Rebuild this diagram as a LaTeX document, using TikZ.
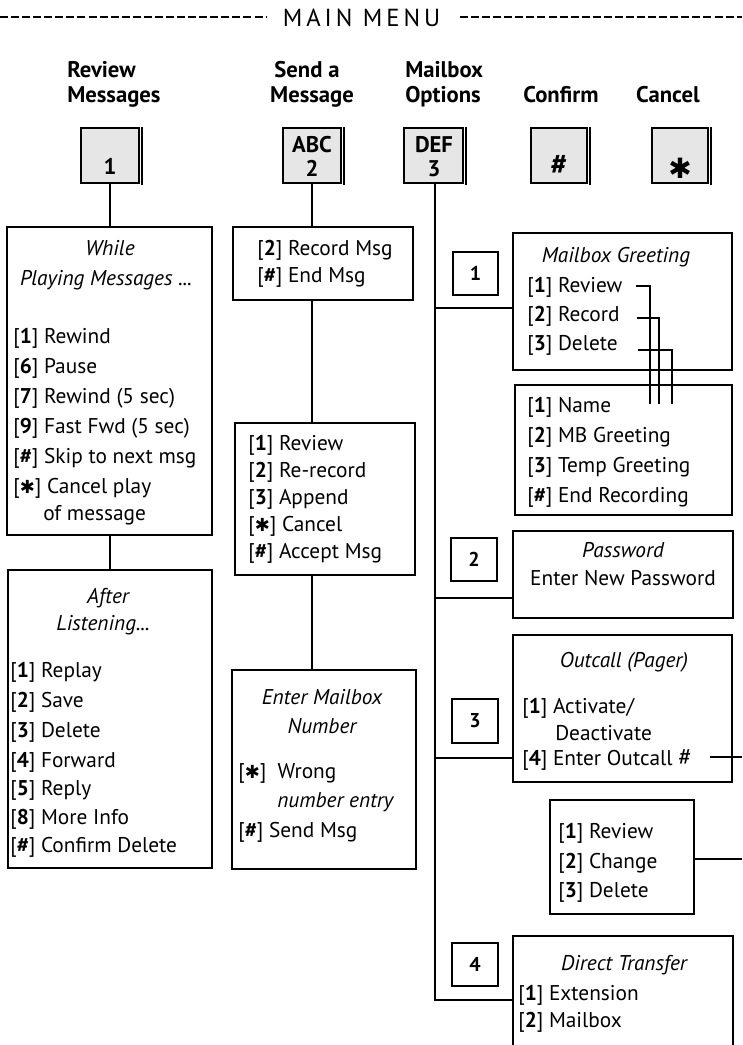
\documentclass[tikz,border=0pt]{standalone}
\usepackage{fontspec}
\setmainfont{PT Sans}
\newfontfamily\djv{DejaVu Sans}
\newfontfamily\hdrfont[LetterSpace=16]{PT Sans}
\usetikzlibrary{fit,calc}
\definecolor{keygray}{RGB}{230,230,230}
\newcommand{\hast}{{\djv\fontsize{13.5}{11}\selectfont ✱}}
\newcommand{\ki}[1]{[\textbf{#1}]}
\newcommand{\bodyf}{\fontsize{16}{19}\selectfont}
\tikzset{
  box/.style={draw, line width=1.5pt, rectangle, inner sep=0pt},
  keyb/.style={draw, line width=1.5pt, rectangle, inner sep=0pt, fill=keygray},
  keyedge/.style={line width=1.5pt},
  lbl/.style={font=\fontsize{17}{20}\selectfont\bfseries, inner sep=0pt},
  keyt/.style={font=\fontsize{17}{20}\selectfont\bfseries, inner sep=0pt, anchor=base},
  numt/.style={font=\fontsize{15}{18}\selectfont\bfseries, inner sep=0pt},
  txt/.style={font=\bodyf, inner sep=0pt, anchor=base west},
  hd/.style={font=\bodyf\itshape, inner sep=0pt, anchor=base},
  ctr/.style={font=\bodyf, inner sep=0pt, anchor=base},
  conn/.style={line width=1.5pt},
  thinconn/.style={line width=1.2pt},
  hdash/.style={line width=1.3pt, dash pattern=on 6pt off 2.3pt},
}
\begin{document}
\begin{tikzpicture}[x=0.75pt, y=-0.75pt]
\useasboundingbox (0,0) rectangle (742,1045);
\clip (0,0) rectangle (742,1045);
\fill[white] (0,0) rectangle (742,1045);

% header
\node[font=\hdrfont\fontsize{18.5}{20}\selectfont, inner sep=0pt, anchor=base] (title) at (361.5,27) {MAIN MENU};
\coordinate (hl0) at (0,17);
\coordinate (hl1) at (266,17);
\coordinate (hr0) at (460,17);
\coordinate (hr1) at (742,17);
\draw[hdash] (hl0) -- (hl1);
\draw[hdash] (hr0) -- (hr1);

% labels
\node[lbl, anchor=base west] (l1a) at (67,78) {Review};
\node[lbl, anchor=base west] (l1b) at (67,103) {Messages};
\node[lbl, anchor=base] (l2a) at (307,78) {Send a};
\node[lbl, anchor=base] (l2b) at (312,103) {Message};
\node[lbl, anchor=base west] (l3a) at (405,78) {Mailbox};
\node[lbl, anchor=base west] (l3b) at (405,103) {Options};
\node[lbl, anchor=base] (l4) at (561,103) {Confirm};
\node[lbl, anchor=base] (l5) at (668,103) {Cancel};

% keys
\node[keyb, fit={(81,128) (139,183)}] (k1) {};
\node[keyb, fit={(283,128) (341,183)}] (k2) {};
\node[keyb, fit={(404,128) (463,183)}] (k3) {};
\node[keyb, fit={(531,128) (587,183)}] (k4) {};
\node[keyb, fit={(652,128) (708,183)}] (k5) {};
\foreach \k in {k1,k2,k3,k4,k5}
  \draw[keyedge] ($(\k.north east)+(2,0)$) -- ($(\k.south east)+(2,1)$);
\node[keyt] (k1t) at (110,175) {1};
\node[keyt] (k2a) at (312,153) {ABC};
\node[keyt] (k2b) at (312,176) {2};
\node[keyt] (k3a) at (434,153) {DEF};
\node[keyt] (k3b) at (434,176) {3};
\node[keyt, font=\fontsize{22}{22}\selectfont\bfseries] (k4t) at (559,175) {\#};
\node[inner sep=0pt, anchor=base, font=\djv\fontsize{21}{21}\selectfont] (k5t) at (680,178) {✱};

% boxes
\node[box, fit={(7,227) (212,535)}] (wbox) {};
\node[box, fit={(8,570) (212,868)}] (abox) {};
\node[box, fit={(233,227) (413,300)}] (rbox) {};
\node[box, fit={(235,423) (415,575)}] (r2box) {};
\node[box, fit={(232,670) (416,869)}] (ebox) {};
\node[box, fit={(513,233) (732,370)}] (mgbox) {};
\node[box, fit={(515,385) (732,515)}] (nbox) {};
\node[box, fit={(513,531) (733,618)}] (pwbox) {};
\node[box, fit={(513,635) (732,782)}] (ocbox) {};
\node[box, fit={(550,800) (694,914)}] (rcbox) {};
\node[box, fit={(513,936) (733,1075)}] (dtbox) {};
\node[box, fit={(453,252) (498,295)}] (n1) {};
\node[box, fit={(451,538) (497,581)}] (n2) {};
\node[box, fit={(452,699) (498,743)}] (n3) {};
\node[box, fit={(452,943) (498,986)}] (n4) {};
\node[numt] (n1t) at (n1) {1};
\node[numt] (n2t) at (n2) {2};
\node[numt] (n3t) at (n3) {3};
\node[numt] (n4t) at (n4) {4};

% connectors left / middle
\draw[conn] (k1.south) -- (k1.south |- wbox.north);
\draw[conn] (wbox.south) -- (wbox.south |- abox.north);
\draw[conn] (k2.south) -- (k2.south |- rbox.north);
\draw[conn] (k2.south |- rbox.south) -- (k2.south |- r2box.north);
\draw[conn] (k2.south |- r2box.south) -- (k2.south |- ebox.north);

% spine
\coordinate (sp) at (435,1000);
\coordinate (b1) at (435,308);
\coordinate (b2) at (435,598);
\coordinate (b3) at (435,758);
\draw[conn] (k3.south -| sp) -- (sp) -- (sp -| dtbox.west);
\draw[conn] (b1) -- (b1 -| mgbox.west);
\draw[conn] (b2) -- (b2 -| pwbox.west);
\draw[conn] (b3) -- (b3 -| ocbox.west);

% right edge stubs
\coordinate (oc0) at (710,757);
\coordinate (e1) at (742,757);
\coordinate (e2) at (742,859);
\draw[conn] (oc0) -- (e1);
\draw[conn] (rcbox.east |- e2) -- (e2);

% mailbox greeting connectors
\coordinate (ga) at (636,286);
\coordinate (gae) at (650,404);
\coordinate (gb) at (637,318);
\coordinate (gbe) at (659,404);
\coordinate (gc) at (638,350);
\coordinate (gce) at (672,404);
\draw[thinconn] (ga) -| (gae);
\draw[thinconn] (gb) -| (gbe);
\draw[thinconn] (gc) -| (gce);

% while playing
\node[hd] (w0) at (110,255) {While};
\node[hd] (w1) at (106,285) {Playing Messages ...};
\node[txt] (w2) at (13,343) {\ki{1} Rewind};
\node[txt] (w3) at (13,373) {\ki{6} Pause};
\node[txt] (w4) at (13,403) {\ki{7} Rewind (5 sec)};
\node[txt] (w5) at (13,433) {\ki{9} Fast Fwd (5 sec)};
\node[txt] (w6) at (13,463) {\ki{\#} Skip to next msg};
\node[txt] (w7) at (13,493) {[\hast] Cancel play};
\node[txt] (w8) at (43,520) {of message};

% after listening
\node[hd] (a0) at (108,603) {After};
\node[hd] (a1) at (103,630) {Listening...};
\node[txt] (a2) at (10,677) {\ki{1} Replay};
\node[txt] (a3) at (10,707) {\ki{2} Save};
\node[txt] (a4) at (10,737) {\ki{3} Delete};
\node[txt] (a5) at (10,767) {\ki{4} Forward};
\node[txt] (a6) at (10,795) {\ki{5} Reply};
\node[txt] (a7) at (10,824) {\ki{8} More Info};
\node[txt] (a8) at (10,852) {\ki{\#} Confirm Delete};

% record
\node[txt] (r0) at (257,255) {\ki{2} Record Msg};
\node[txt] (r1) at (257,282) {\ki{\#} End Msg};

% review after record
\node[txt] (v0) at (248,450) {\ki{1} Review};
\node[txt] (v1) at (248,477) {\ki{2} Re-record};
\node[txt] (v2) at (248,504) {\ki{3} Append};
\node[txt] (v3) at (248,531) {[\hast] Cancel};
\node[txt] (v4) at (248,558) {\ki{\#} Accept Msg};

% enter mailbox
\node[hd] (m0) at (322,704) {Enter Mailbox};
\node[hd] (m1) at (322,733) {Number};
\node[txt] (m2) at (238,778) {[\hast]\ \ Wrong};
\node[txt, font=\bodyf\itshape] (m3) at (277,807) {number entry};
\node[txt] (m4) at (238,837) {\ki{\#} Send Msg};

% mailbox greeting
\node[hd] (g0) at (616,262) {Mailbox Greeting};
\node[txt] (g1) at (527,292) {\ki{1} Review};
\node[txt] (g2) at (527,321) {\ki{2} Record};
\node[txt] (g3) at (527,350) {\ki{3} Delete};

% names
\node[txt] (q1) at (527,412) {\ki{1} Name};
\node[txt] (q2) at (527,442) {\ki{2} MB Greeting};
\node[txt] (q3) at (527,472) {\ki{3} Temp Greeting};
\node[txt] (q4) at (527,502) {\ki{\#} End Recording};

% password
\node[hd] (p0) at (623,557) {Password};
\node[ctr] (p1) at (623,585) {Enter New Password};

% outcall
\node[hd] (o0) at (624,667) {Outcall (Pager)};
\node[txt] (o1) at (522,713) {\ki{1} Activate/};
\node[txt] (o2) at (555,740) {Deactivate};
\node[txt] (o3) at (522,765) {\ki{4} Enter Outcall {\fontsize{18.5}{19}\selectfont\#}};

% review change delete
\node[txt] (c1) at (558,838) {\ki{1} Review};
\node[txt] (c2) at (558,868) {\ki{2} Change};
\node[txt] (c3) at (558,897) {\ki{3} Delete};

% direct transfer
\node[hd] (d0) at (624,970) {Direct Transfer};
\node[txt] (d1) at (518,1000) {\ki{1} Extension};
\node[txt] (d2) at (518,1027) {\ki{2} Mailbox};
\end{tikzpicture}
\end{document}
